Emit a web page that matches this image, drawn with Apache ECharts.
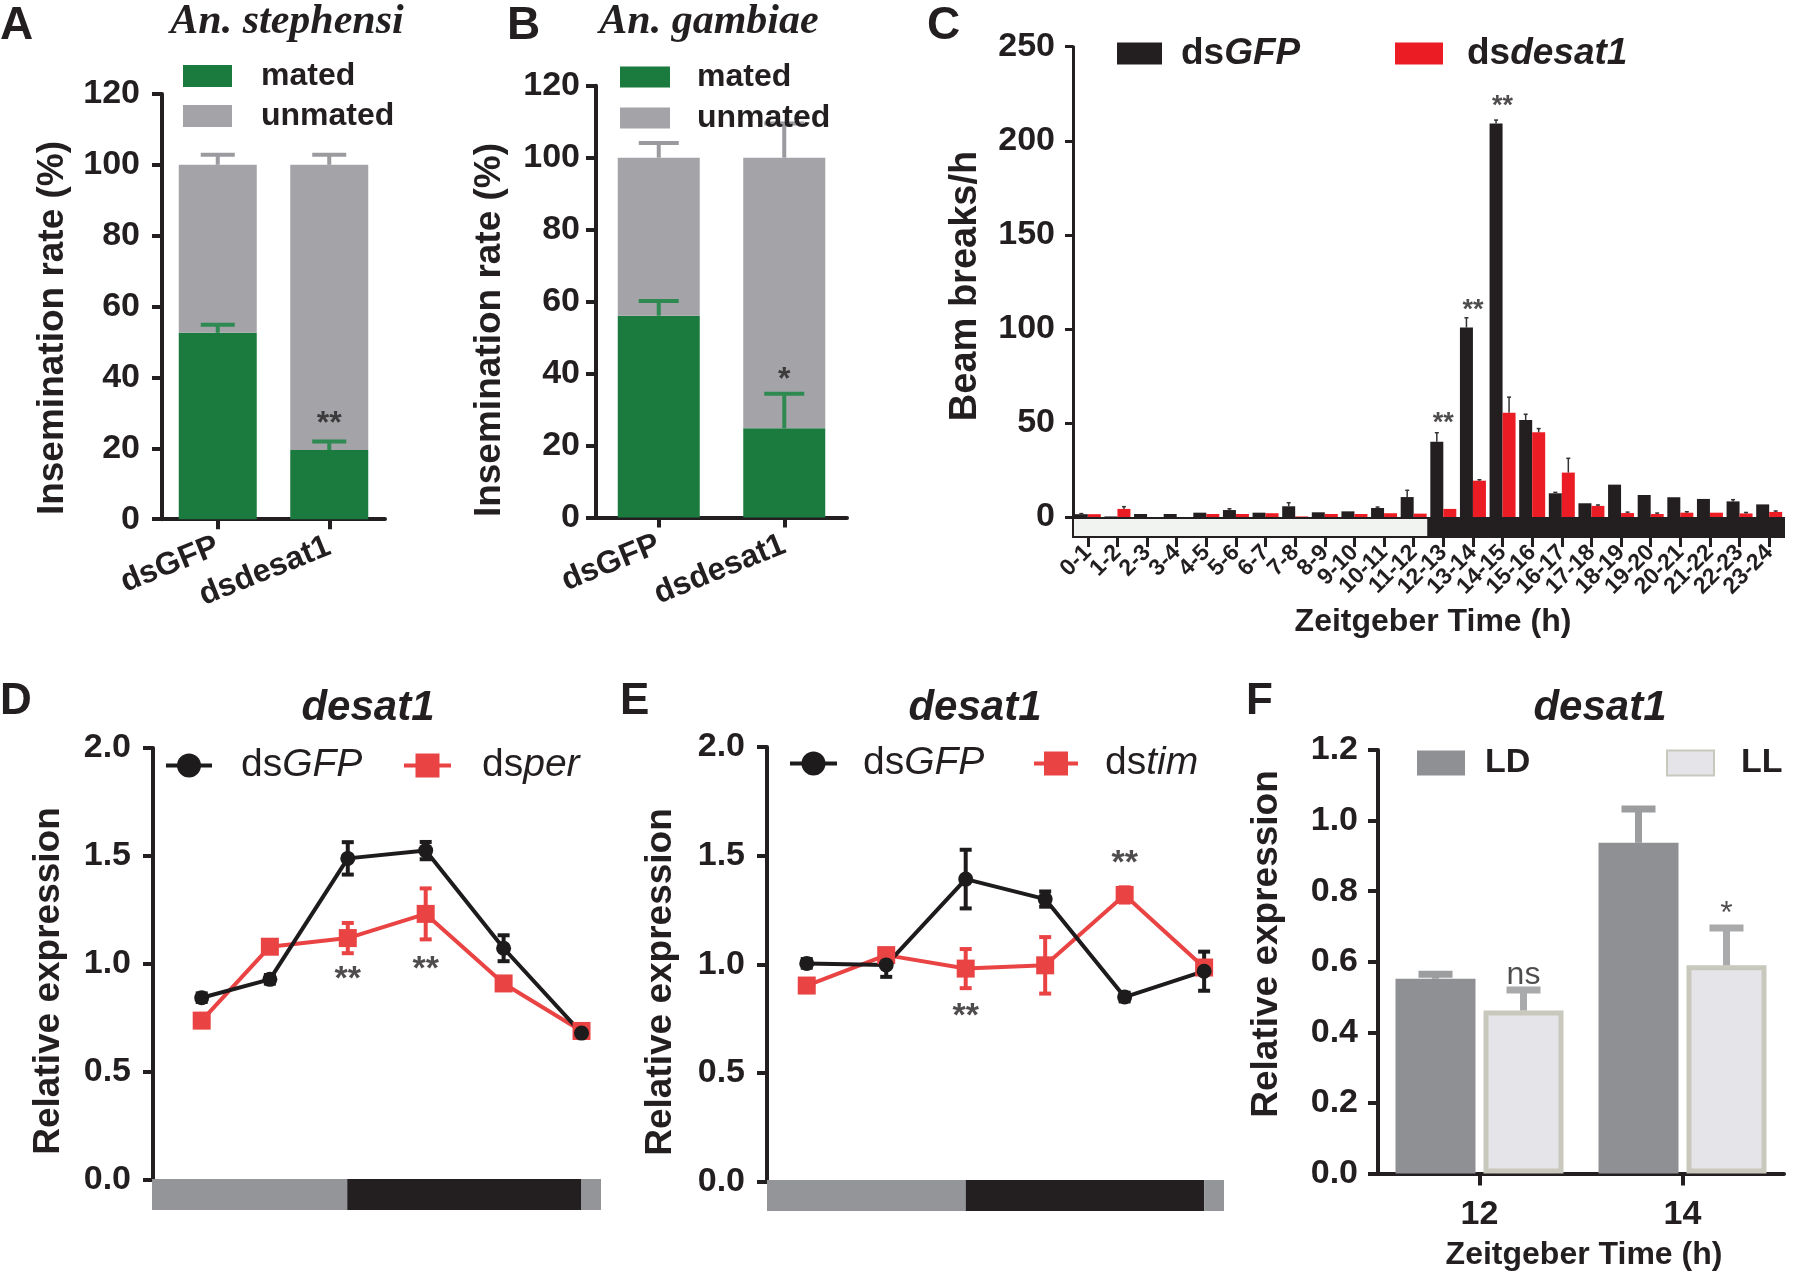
<!DOCTYPE html>
<html><head><meta charset="utf-8">
<script src="https://cdn.jsdelivr.net/npm/echarts/dist/echarts.min.js"></script>
<style>html,body{margin:0;padding:0;background:#fff}#c{width:1800px;height:1273px}</style>
</head><body><div id="c"></div>
<script>
// ---------------- DATA ----------------
// Panel A (An. stephensi)
const catsAB = ['dsGFP', 'dsdesat1'];
const totalA = [100, 100];
const matedA = [52.6, 19.5];
const matedErrA = [2.3, 2.4];
const unmatedErrA = [2.8, 2.8];
const sigA = ['', '**'];
const sigPosA = [0, 28.8];
// Panel B (An. gambiae)
const totalB = [100, 100];
const matedB = [56.1, 24.8];
const matedErrB = [4.1, 9.6];
const unmatedErrB = [4.1, 9.5];
const sigB = ['', '*'];
const sigPosB = [0, 40.2];
// Panel C (beam breaks per hour)
const catsC = ['0-1','1-2','2-3','3-4','4-5','5-6','6-7','7-8','8-9','9-10','10-11','11-12',
  '12-13','13-14','14-15','15-16','16-17','17-18','18-19','19-20','20-21','21-22','22-23','23-24'];
const gfpC    = [1.5, 0.3, 1.6, 1.6, 2.3, 3.7, 2.3, 5.7, 2.5, 3.0, 4.8, 10.6, 40.0, 100.7, 209.2, 51.6, 12.6, 7.3, 17.2, 11.7, 10.5, 9.6, 8.3, 6.7];
const gfpErrC = [0.3, 0, 0, 0, 0, 0.7, 0, 1.9, 0, 0, 0.5, 3.6, 4.8, 5.2, 1.8, 3.0, 0.5, 0, 0, 0, 0, 0, 0.9, 0];
const desatC    = [1.5, 4.3, 0, 0, 1.6, 1.6, 2.0, 0.3, 1.6, 1.6, 2.0, 1.8, 4.3, 19.3, 55.4, 45.0, 23.6, 5.9, 2.1, 1.6, 2.3, 2.3, 1.9, 2.7];
const desatErrC = [0, 1.2, 0, 0, 0, 0, 0, 0, 0, 0, 0, 0, 0, 0.5, 8.3, 2.0, 7.6, 0.5, 0.5, 0.5, 0.5, 0, 0.5, 0.5];
const sigC    = ['', '', '', '', '', '', '', '', '', '', '', '', '**', '**', '**', '', '', '', '', '', '', '', '', ''];
const sigPosC = [0, 0, 0, 0, 0, 0, 0, 0, 0, 0, 0, 0, 53, 113, 221.4, 0, 0, 0, 0, 0, 0, 0, 0, 0];
const ldPeriodsC = [[0, 12, 'light'], [12, 24, 'dark']];
// Panel D (desat1, dsGFP vs dsper)
const xD = [4.5, 8, 12, 16, 20, 24];
const gfpD    = [0.844, 0.929, 1.489, 1.525, 1.073, 0.680];
const gfpErrD = [0.02, 0.02, 0.075, 0.04, 0.06, 0.02];
const perD    = [0.738, 1.080, 1.120, 1.232, 0.910, 0.690];
const perErrD = [0.03, 0.02, 0.07, 0.118, 0.02, 0.02];
const sigD    = ['', '', '**', '**', '', ''];
const sigPosD = [0, 0, 0.958, 1.005, 0, 0];
const ldPeriodsD = [[2, 12, 'light'], [12, 24, 'dark'], [24, 25, 'light']];
// Panel E (desat1, dsGFP vs dstim)
const xE = [4, 8, 12, 16, 20, 24];
const gfpE    = [1.004, 0.997, 1.392, 1.300, 0.849, 0.968];
const gfpErrE = [0.02, 0.055, 0.135, 0.035, 0.02, 0.09];
const timE    = [0.902, 1.042, 0.980, 0.995, 1.319, 0.985];
const timErrE = [0.03, 0.02, 0.09, 0.13, 0.035, 0.03];
const sigE    = ['', '', '**', '', '**', ''];
const sigPosE = [0, 0, 0.789, 0, 1.494, 0];
const ldPeriodsE = [[2, 12, 'light'], [12, 24, 'dark'], [24, 25, 'light']];
// Panel F (LD vs LL)
const catsF = ['12', '14'];
const ldF    = [0.552, 0.937];
const ldErrF = [0.013, 0.096];
const llF    = [0.462, 0.590];
const llErrF = [0.058, 0.106];
const sigF    = ['ns', '*'];
const sigPosF = [0.574, 0.745];

// ---------------- STYLE ----------------
const INK = '#231f20';
const SANS = '"Liberation Sans", Arial, Helvetica, sans-serif';
const NARROW = '"Liberation Sans Narrow", "Arial Narrow", "Liberation Sans", sans-serif';
const SERIF = '"Liberation Serif", "Times New Roman", serif';
const GREEN = '#1b7a3e', GREEN_ERR = '#2f8a52';
const GRAYA = '#a3a3a8', GRAYA_ERR = '#9a9a9f';
const CBLACK = '#231f20', CRED = '#ec1c24';
const DBLACK = '#1d1b1c', DRED = '#e94343';
const LDGRAY = '#939598';
const FLD = '#8f9094', FLL = '#e5e5e9', FLLB = '#c9c8bc', FERR = '#9c9d9f';

function errSeries(xi, yi, rows, opt) {
  return {
    type: 'custom', xAxisIndex: xi, yAxisIndex: yi, data: rows, silent: true, z: 3,
    encode: { x: 0, y: [1, 2] },
    renderItem: function (params, api) {
      const x = api.value(0), lo = api.value(1), hi = api.value(2);
      if (!(hi > lo)) return null;
      const pLo = api.coord([x, lo]), pHi = api.coord([x, hi]);
      const cx = pLo[0] + (opt.offset || 0);
      const st = { stroke: opt.color, lineWidth: opt.width, lineCap: 'butt' };
      const ch = [
        { type: 'line', shape: { x1: cx, y1: pLo[1], x2: cx, y2: pHi[1] }, style: st },
        { type: 'line', shape: { x1: cx - opt.cap / 2, y1: pHi[1], x2: cx + opt.cap / 2, y2: pHi[1] }, style: st }
      ];
      if (opt.both) ch.push({ type: 'line', shape: { x1: cx - opt.cap / 2, y1: pLo[1], x2: cx + opt.cap / 2, y2: pLo[1] }, style: st });
      return { type: 'group', children: ch };
    }
  };
}
function upRows(vals, errs) { return vals.map((v, i) => [i, v, v + errs[i]]); }
function bothRows(xs, vals, errs) { return vals.map((v, i) => [xs[i], v - errs[i], v + errs[i]]); }

function sigSeries(xi, yi, xs, texts, pos, opt) {
  const data = [];
  texts.forEach((t, i) => { if (t) data.push({ value: [xs[i], pos[i]], label: { formatter: t } }); });
  return {
    type: 'scatter', xAxisIndex: xi, yAxisIndex: yi, data: data, symbolSize: 1, silent: true, z: 6,
    itemStyle: { color: 'rgba(0,0,0,0)' },
    label: { show: true, position: 'inside', color: INK, fontFamily: SANS, fontSize: opt.size,
      fontWeight: opt.weight || 'bold', offset: opt.offset || [0, 0] }
  };
}

function ldSeries(xi, yi, periods, opt) {
  return {
    type: 'custom', xAxisIndex: xi, yAxisIndex: yi, data: periods.map(p => [p[0], p[1]]), silent: true, z: 4,
    renderItem: function (params, api) {
      const kind = periods[params.dataIndex][2];
      const a = api.coord([api.value(0), 1]), b = api.coord([api.value(1), 0]);
      return { type: 'rect', shape: { x: a[0], y: a[1], width: b[0] - a[0], height: b[1] - a[1] },
        style: { fill: kind === 'dark' ? opt.dark : opt.light, stroke: opt.stroke || null, lineWidth: opt.lineWidth || 0 } };
    }
  };
}

const seqIdx = n => Array.from({ length: n }, (_, i) => i);

function valueY(gi, min, max, interval, opt) {
  return {
    type: 'value', gridIndex: gi, min: min, max: max, interval: interval,
    axisLine: { show: true, lineStyle: { color: INK, width: opt.lw } },
    axisTick: { show: true, length: opt.tl, lineStyle: { color: INK, width: opt.lw } },
    splitLine: { show: false },
    axisLabel: { color: INK, fontFamily: SANS, fontWeight: 'bold', fontSize: opt.fs, margin: opt.margin,
      formatter: opt.fmt || null }
  };
}
function hiddenValueX(gi, min, max) { return { type: 'value', gridIndex: gi, min: min, max: max, show: false }; }
function hiddenY01(gi) { return { type: 'value', gridIndex: gi, min: 0, max: 1, show: false }; }

const legendNames = {
  A_mated: 'mated', A_unmated: 'unmated', B_mated: 'mated', B_unmated: 'unmated',
  C_gfp: 'ds{i|GFP}', C_desat: 'ds{i|desat1}',
  D_gfp: 'ds{i|GFP}', D_per: 'ds{i|per}', E_gfp: 'ds{i|GFP}', E_tim: 'ds{i|tim}',
  F_LD: 'LD', F_LL: 'LL'
};
function legendOf(names, o) {
  return {
    data: names, left: o.left, top: o.top, orient: o.orient || 'horizontal', padding: 0,
    itemWidth: o.w, itemHeight: o.h, itemGap: o.gap || 10, selectedMode: false, icon: o.icon,
    lineStyle: o.lineW ? { width: o.lineW } : undefined,
    formatter: n => legendNames[n],
    textStyle: { color: INK, fontFamily: SANS, fontSize: o.fs, fontWeight: o.fw, lineHeight: o.h,
      padding: [0, 0, 0, o.pad],
      rich: { i: { fontStyle: 'italic', fontFamily: SANS, fontSize: o.fs, fontWeight: o.fw, color: INK, lineHeight: o.h } } }
  };
}

function txt(x, y, text, o) {
  return { type: 'text', x: x, y: y, rotation: o.rot || 0, z: 10, silent: true,
    style: { text: text, fill: INK, fontFamily: o.ff || SANS, fontSize: o.fs, fontWeight: o.fw || 'bold',
      fontStyle: o.fst || 'normal', align: o.align || 'center', verticalAlign: o.va || 'middle' } };
}

const option = {
  animation: false,
  backgroundColor: '#ffffff',
  grid: [
    { left: 162, top: 93.9, width: 223, height: 425.3 },   // 0 A
    { left: 596, top: 85.7, width: 251, height: 431.9 },   // 1 B
    { left: 1073, top: 46.7, width: 711, height: 470.3 },  // 2 C
    { left: 1073, top: 518, width: 711, height: 19 },      // 3 C LD bar
    { left: 153, top: 748, width: 448, height: 432 },      // 4 D
    { left: 152, top: 1179, width: 449, height: 31 },      // 5 D LD bar
    { left: 767, top: 747, width: 457, height: 434.5 },    // 6 E
    { left: 767, top: 1180, width: 457, height: 31 },      // 7 E LD bar
    { left: 1378, top: 750, width: 406, height: 423.6 }    // 8 F
  ],
  xAxis: [
    { type: 'category', gridIndex: 0, data: catsAB,
      axisLine: { show: true, lineStyle: { color: INK, width: 4 } },
      axisTick: { show: true, alignWithLabel: true, length: 10, lineStyle: { color: INK, width: 4 } },
      axisLabel: { rotate: 22, color: INK, fontFamily: SANS, fontWeight: 'bold', fontSize: 32, margin: 26 } },
    { type: 'category', gridIndex: 1, data: catsAB,
      axisLine: { show: true, lineStyle: { color: INK, width: 4 } },
      axisTick: { show: true, alignWithLabel: true, length: 10, lineStyle: { color: INK, width: 4 } },
      axisLabel: { rotate: 22, color: INK, fontFamily: SANS, fontWeight: 'bold', fontSize: 32, margin: 26 } },
    { type: 'category', gridIndex: 2, data: catsC, axisLine: { show: false }, axisTick: { show: false }, axisLabel: { show: false } },
    { type: 'category', gridIndex: 3, data: catsC, position: 'bottom', axisLine: { show: false },
      axisTick: { show: true, alignWithLabel: true, length: 10, lineStyle: { color: INK, width: 3 } },
      axisLabel: { rotate: 45, interval: 0, color: INK, fontFamily: SANS, fontWeight: 'bold', fontSize: 23, margin: 12 } },
    hiddenValueX(3, 0, 24),
    hiddenValueX(4, 2, 25),
    hiddenValueX(5, 2, 25),
    hiddenValueX(6, 2, 25),
    hiddenValueX(7, 2, 25),
    { type: 'category', gridIndex: 8, data: catsF,
      axisLine: { show: true, lineStyle: { color: INK, width: 4 } },
      axisTick: { show: true, alignWithLabel: true, length: 12, lineStyle: { color: INK, width: 4 } },
      axisLabel: { color: INK, fontFamily: SANS, fontWeight: 'bold', fontSize: 34, margin: 24 } }
  ],
  yAxis: [
    valueY(0, 0, 120, 20, { lw: 4, tl: 10, fs: 34, margin: 22 }),
    valueY(1, 0, 120, 20, { lw: 4, tl: 10, fs: 34, margin: 16 }),
    valueY(2, 0, 250, 50, { lw: 3, tl: 8, fs: 34, margin: 18 }),
    hiddenY01(3),
    valueY(4, 0, 2, 0.5, { lw: 4, tl: 10, fs: 34, margin: 22, fmt: v => v.toFixed(1) }),
    hiddenY01(5),
    valueY(6, 0, 2, 0.5, { lw: 4, tl: 10, fs: 34, margin: 22, fmt: v => v.toFixed(1) }),
    hiddenY01(7),
    valueY(8, 0, 1.2, 0.2, { lw: 4, tl: 10, fs: 34, margin: 20, fmt: v => v.toFixed(1) })
  ],
  legend: [
    legendOf(['A_mated', 'A_unmated'], { left: 183, top: 60, orient: 'vertical', w: 49, h: 22, gap: 8, fs: 32, fw: 'bold', pad: 24, icon: 'rect' }),
    legendOf(['B_mated', 'B_unmated'], { left: 620, top: 61, orient: 'vertical', w: 50, h: 21, gap: 9, fs: 32, fw: 'bold', pad: 22, icon: 'rect' }),
    legendOf(['C_gfp'], { left: 1117, top: 35, w: 45, h: 22, fs: 37, fw: 'bold', pad: 14, icon: 'rect' }),
    legendOf(['C_desat'], { left: 1395, top: 35, w: 48, h: 22, fs: 37, fw: 'bold', pad: 19, icon: 'rect' }),
    legendOf(['D_gfp'], { left: 164, top: 746, w: 46, h: 30, fs: 39, fw: 'normal', pad: 24, lineW: 4 }),
    legendOf(['D_per'], { left: 402, top: 746, w: 47, h: 30, fs: 39, fw: 'normal', pad: 26, lineW: 4 }),
    legendOf(['E_gfp'], { left: 788, top: 744, w: 47, h: 30, fs: 39, fw: 'normal', pad: 21, lineW: 4 }),
    legendOf(['E_tim'], { left: 1032, top: 744, w: 44, h: 30, fs: 39, fw: 'normal', pad: 22, lineW: 4 }),
    legendOf(['F_LD'], { left: 1417, top: 746, w: 48, h: 25, fs: 34, fw: 'bold', pad: 15, icon: 'rect' }),
    legendOf(['F_LL'], { left: 1666, top: 746, w: 47, h: 25, fs: 34, fw: 'bold', pad: 22, icon: 'rect' })
  ],
  series: [
    // ---- A ----
    { name: 'A_mated', type: 'bar', xAxisIndex: 0, yAxisIndex: 0, stack: 'A', barWidth: 78, data: matedA, itemStyle: { color: GREEN }, silent: true },
    { name: 'A_unmated', type: 'bar', xAxisIndex: 0, yAxisIndex: 0, stack: 'A', barWidth: 78, data: totalA.map((t, i) => t - matedA[i]), itemStyle: { color: GRAYA }, silent: true },
    errSeries(0, 0, upRows(matedA, matedErrA), { color: GREEN_ERR, width: 4, cap: 34 }),
    errSeries(0, 0, upRows(totalA, unmatedErrA), { color: GRAYA_ERR, width: 4, cap: 34 }),
    sigSeries(0, 0, seqIdx(2), sigA, sigPosA, { size: 32, offset: [0, 7] }),
    // ---- B ----
    { name: 'B_mated', type: 'bar', xAxisIndex: 1, yAxisIndex: 1, stack: 'B', barWidth: 82, data: matedB, itemStyle: { color: GREEN }, silent: true },
    { name: 'B_unmated', type: 'bar', xAxisIndex: 1, yAxisIndex: 1, stack: 'B', barWidth: 82, data: totalB.map((t, i) => t - matedB[i]), itemStyle: { color: GRAYA }, silent: true },
    errSeries(1, 1, upRows(matedB, matedErrB), { color: GREEN_ERR, width: 4, cap: 40 }),
    errSeries(1, 1, upRows(totalB, unmatedErrB), { color: GRAYA_ERR, width: 4, cap: 40 }),
    sigSeries(1, 1, seqIdx(2), sigB, sigPosB, { size: 32, offset: [0, 7] }),
    // ---- C ----
    { name: 'C_gfp', type: 'bar', xAxisIndex: 2, yAxisIndex: 2, barWidth: 13, barGap: '0%', data: gfpC, itemStyle: { color: CBLACK }, silent: true },
    { name: 'C_desat', type: 'bar', xAxisIndex: 2, yAxisIndex: 2, barWidth: 13, barGap: '0%', data: desatC, itemStyle: { color: CRED }, silent: true },
    errSeries(2, 2, upRows(gfpC, gfpErrC), { color: '#333', width: 1.5, cap: 4, offset: -6.5 }),
    errSeries(2, 2, upRows(desatC, desatErrC), { color: '#333', width: 1.5, cap: 4, offset: 6.5 }),
    sigSeries(2, 2, seqIdx(24), sigC, sigPosC, { size: 27, weight: 'bold', offset: [0, 6] }),
    ldSeries(4, 3, ldPeriodsC, { light: '#f1f3f1', dark: INK, stroke: INK, lineWidth: 2 }),
    // ---- D ----
    ldSeries(6, 5, ldPeriodsD, { light: LDGRAY, dark: INK }),
    errSeries(5, 4, bothRows(xD, gfpD, gfpErrD), { color: DBLACK, width: 4, cap: 12, both: true }),
    errSeries(5, 4, bothRows(xD, perD, perErrD), { color: DRED, width: 4, cap: 12, both: true }),
    { name: 'D_per', type: 'line', xAxisIndex: 5, yAxisIndex: 4, data: perD.map((v, i) => [xD[i], v]),
      symbol: 'rect', symbolSize: 18, lineStyle: { color: DRED, width: 4 }, itemStyle: { color: DRED }, silent: true, z: 4 },
    { name: 'D_gfp', type: 'line', xAxisIndex: 5, yAxisIndex: 4, data: gfpD.map((v, i) => [xD[i], v]),
      symbol: 'circle', symbolSize: 15, lineStyle: { color: DBLACK, width: 4 }, itemStyle: { color: DBLACK }, silent: true, z: 4 },
    sigSeries(5, 4, xD, sigD, sigPosD, { size: 34, offset: [0, 7] }),
    // ---- E ----
    ldSeries(8, 7, ldPeriodsE, { light: LDGRAY, dark: INK }),
    errSeries(7, 6, bothRows(xE, gfpE, gfpErrE), { color: DBLACK, width: 4, cap: 12, both: true }),
    errSeries(7, 6, bothRows(xE, timE, timErrE), { color: DRED, width: 4, cap: 12, both: true }),
    { name: 'E_tim', type: 'line', xAxisIndex: 7, yAxisIndex: 6, data: timE.map((v, i) => [xE[i], v]),
      symbol: 'rect', symbolSize: 18, lineStyle: { color: DRED, width: 4 }, itemStyle: { color: DRED }, silent: true, z: 4 },
    { name: 'E_gfp', type: 'line', xAxisIndex: 7, yAxisIndex: 6, data: gfpE.map((v, i) => [xE[i], v]),
      symbol: 'circle', symbolSize: 15, lineStyle: { color: DBLACK, width: 4 }, itemStyle: { color: DBLACK }, silent: true, z: 4 },
    sigSeries(7, 6, xE, sigE, sigPosE, { size: 34, offset: [0, 7] }),
    // ---- F ----
    { name: 'F_LD', type: 'bar', xAxisIndex: 9, yAxisIndex: 8, barWidth: 80, barGap: '10%', data: ldF, itemStyle: { color: FLD }, silent: true },
    { name: 'F_LL', type: 'bar', xAxisIndex: 9, yAxisIndex: 8, barWidth: 80, barGap: '10%', data: llF, itemStyle: { color: FLL, borderColor: FLLB, borderWidth: 5 }, silent: true },
    errSeries(9, 8, upRows(ldF, ldErrF), { color: FERR, width: 7, cap: 34, offset: -44 }),
    errSeries(9, 8, upRows(llF, llErrF), { color: '#a9aaac', width: 7, cap: 34, offset: 44 }),
    sigSeries(9, 8, seqIdx(2), sigF, sigPosF, { size: 32, weight: 'normal', offset: [44, 4] })
  ],
  graphic: [
    txt(0, 26, 'A', { fs: 46, ff: NARROW, align: 'left' }),
    txt(507, 26, 'B', { fs: 46, ff: NARROW, align: 'left' }),
    txt(927, 26, 'C', { fs: 46, ff: NARROW, align: 'left' }),
    txt(0, 702, 'D', { fs: 44, ff: NARROW, align: 'left' }),
    txt(620, 702, 'E', { fs: 44, ff: NARROW, align: 'left' }),
    txt(1246, 702, 'F', { fs: 44, ff: NARROW, align: 'left' }),
    txt(287, 22, 'An. stephensi', { fs: 42, ff: SERIF, fst: 'italic' }),
    txt(709, 22, 'An. gambiae', { fs: 42, ff: SERIF, fst: 'italic' }),
    txt(368, 708, 'desat1', { fs: 42, fst: 'italic' }),
    txt(975, 708, 'desat1', { fs: 42, fst: 'italic' }),
    txt(1600, 708, 'desat1', { fs: 42, fst: 'italic' }),
    txt(53, 328, 'Insemination rate (%)', { fs: 37, rot: Math.PI / 2 }),
    txt(490, 330, 'Insemination rate (%)', { fs: 37, rot: Math.PI / 2 }),
    txt(966, 286, 'Beam breaks/h', { fs: 38, rot: Math.PI / 2 }),
    txt(49, 981, 'Relative expression', { fs: 37, rot: Math.PI / 2 }),
    txt(661, 982, 'Relative expression', { fs: 37, rot: Math.PI / 2 }),
    txt(1267, 944, 'Relative expression', { fs: 37, rot: Math.PI / 2 }),
    txt(1433, 622, 'Zeitgeber Time (h)', { fs: 32 }),
    txt(1584, 1255, 'Zeitgeber Time (h)', { fs: 32 })
  ]
};
const chart = echarts.init(document.getElementById('c'), null, { renderer: 'canvas' });
chart.setOption(option);
</script>
</body></html>
